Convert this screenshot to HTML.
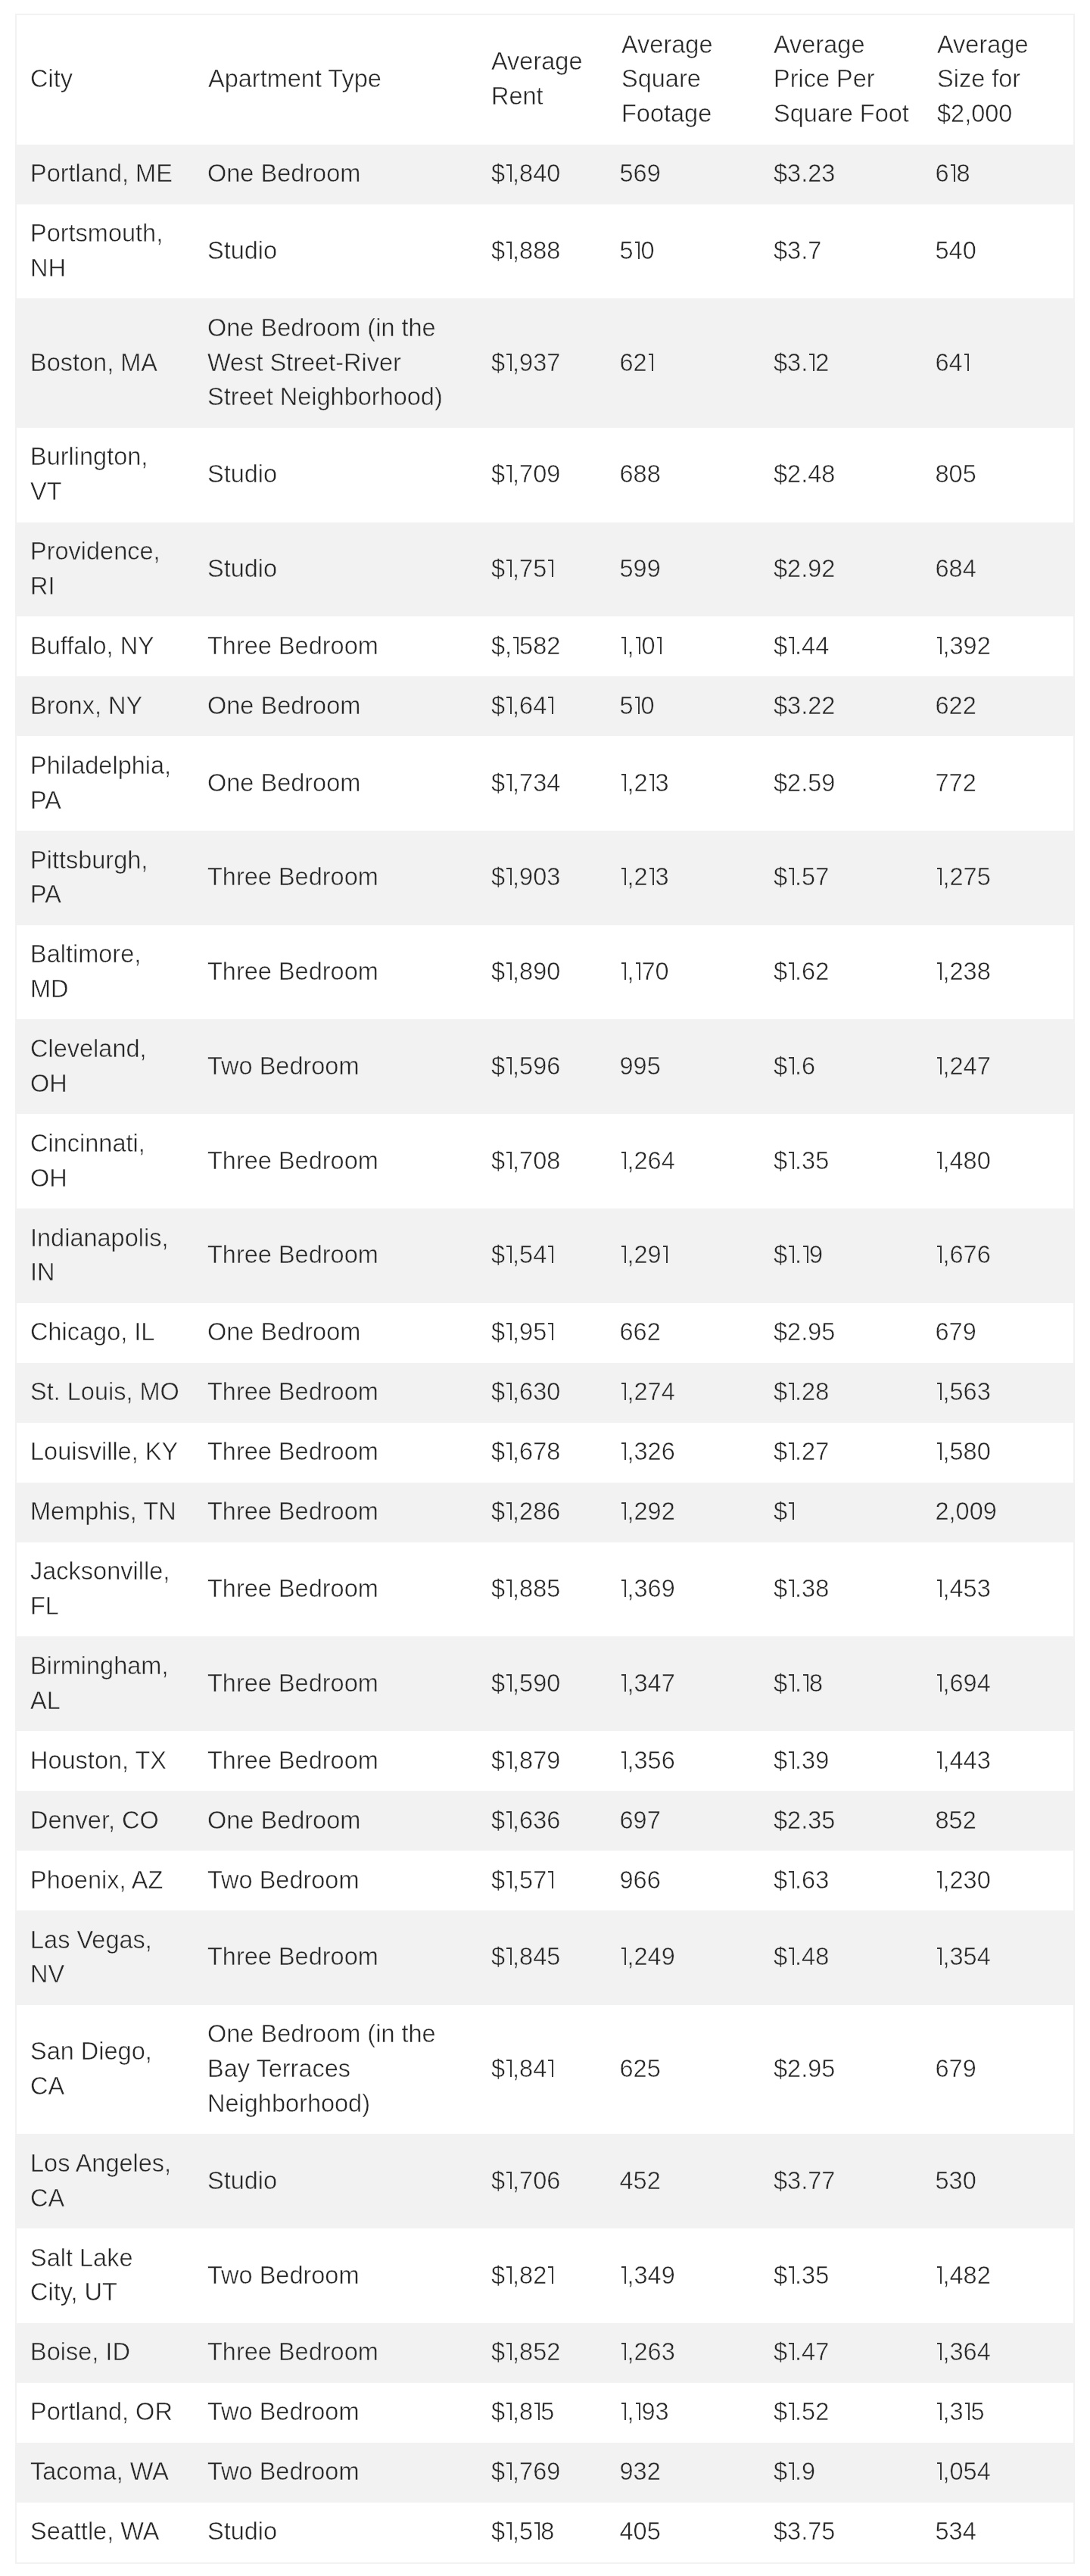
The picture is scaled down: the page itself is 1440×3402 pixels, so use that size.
<!DOCTYPE html>
<html><head><meta charset="utf-8"><style>
html,body{margin:0;padding:0;background:#fff;}
body{-webkit-font-smoothing:antialiased;width:1440px;height:3402px;overflow:hidden;position:relative;}
table{will-change:transform;position:absolute;left:20px;top:18px;width:1400px;border:2px solid #f2f2f2;border-collapse:separate;border-spacing:0;table-layout:fixed;
 font-family:"Liberation Sans",sans-serif;font-size:32.5px;line-height:45.78px;color:#262626;}
col.c1{width:233px}col.c2{width:374px}col.c3{width:172px}col.c4{width:201px}col.c5{width:216px}col.c6{width:200px}
td{padding:16.6px 20px;vertical-align:middle;white-space:nowrap;}
tr.g td{background:#f2f2f2;}
td{-webkit-text-stroke:0.5px #fff;}
tr.g td{-webkit-text-stroke:0.5px #f2f2f2;}
td:nth-child(1){padding-left:18px}
tr.g td:nth-child(2),tr.w td:nth-child(2){padding-left:19px}
tr.g td:nth-child(4),tr.w td:nth-child(4){padding-left:17.5px}
tr.g td:nth-child(6),tr.w td:nth-child(6){padding-left:17.5px}
b.o{display:inline-block;width:10px;height:23px;position:relative;vertical-align:baseline;}
b.o::before{content:"";position:absolute;left:2px;top:0;width:6.6px;height:2px;background:#383838;}
b.o::after{content:"";position:absolute;left:6.5px;top:0;width:2.1px;height:23px;background:#383838;}
b.o i{position:absolute;left:0;top:0;line-height:23px;font-style:normal;color:transparent;-webkit-text-stroke:0;}

</style></head><body>
<table>
<colgroup><col class="c1"><col class="c2"><col class="c3"><col class="c4"><col class="c5"><col class="c6"></colgroup>
<tr class="h"><td>City</td><td>Apartment Type</td><td>Average<br>Rent</td><td>Average<br>Square<br>Footage</td><td>Average<br>Price Per<br>Square Foot</td><td>Average<br>Size for<br>$2,000</td></tr>
<tr class="g"><td>Portland, ME</td><td>One Bedroom</td><td>$<b class="o"><i>1</i></b>,840</td><td>569</td><td>$3.23</td><td>6<b class="o"><i>1</i></b>8</td></tr>
<tr class="w"><td>Portsmouth,<br>NH</td><td>Studio</td><td>$<b class="o"><i>1</i></b>,888</td><td>5<b class="o"><i>1</i></b>0</td><td>$3.7</td><td>540</td></tr>
<tr class="g"><td>Boston, MA</td><td>One Bedroom (in the<br>West Street-River<br>Street Neighborhood)</td><td>$<b class="o"><i>1</i></b>,937</td><td>62<b class="o"><i>1</i></b></td><td>$3.<b class="o"><i>1</i></b>2</td><td>64<b class="o"><i>1</i></b></td></tr>
<tr class="w"><td>Burlington,<br>VT</td><td>Studio</td><td>$<b class="o"><i>1</i></b>,709</td><td>688</td><td>$2.48</td><td>805</td></tr>
<tr class="g"><td>Providence,<br>RI</td><td>Studio</td><td>$<b class="o"><i>1</i></b>,75<b class="o"><i>1</i></b></td><td>599</td><td>$2.92</td><td>684</td></tr>
<tr class="w"><td>Buffalo, NY</td><td>Three Bedroom</td><td>$,<b class="o"><i>1</i></b>582</td><td><b class="o"><i>1</i></b>,<b class="o"><i>1</i></b>0<b class="o"><i>1</i></b></td><td>$<b class="o"><i>1</i></b>.44</td><td><b class="o"><i>1</i></b>,392</td></tr>
<tr class="g"><td>Bronx, NY</td><td>One Bedroom</td><td>$<b class="o"><i>1</i></b>,64<b class="o"><i>1</i></b></td><td>5<b class="o"><i>1</i></b>0</td><td>$3.22</td><td>622</td></tr>
<tr class="w"><td>Philadelphia,<br>PA</td><td>One Bedroom</td><td>$<b class="o"><i>1</i></b>,734</td><td><b class="o"><i>1</i></b>,2<b class="o"><i>1</i></b>3</td><td>$2.59</td><td>772</td></tr>
<tr class="g"><td>Pittsburgh,<br>PA</td><td>Three Bedroom</td><td>$<b class="o"><i>1</i></b>,903</td><td><b class="o"><i>1</i></b>,2<b class="o"><i>1</i></b>3</td><td>$<b class="o"><i>1</i></b>.57</td><td><b class="o"><i>1</i></b>,275</td></tr>
<tr class="w"><td>Baltimore,<br>MD</td><td>Three Bedroom</td><td>$<b class="o"><i>1</i></b>,890</td><td><b class="o"><i>1</i></b>,<b class="o"><i>1</i></b>70</td><td>$<b class="o"><i>1</i></b>.62</td><td><b class="o"><i>1</i></b>,238</td></tr>
<tr class="g"><td>Cleveland,<br>OH</td><td>Two Bedroom</td><td>$<b class="o"><i>1</i></b>,596</td><td>995</td><td>$<b class="o"><i>1</i></b>.6</td><td><b class="o"><i>1</i></b>,247</td></tr>
<tr class="w"><td>Cincinnati,<br>OH</td><td>Three Bedroom</td><td>$<b class="o"><i>1</i></b>,708</td><td><b class="o"><i>1</i></b>,264</td><td>$<b class="o"><i>1</i></b>.35</td><td><b class="o"><i>1</i></b>,480</td></tr>
<tr class="g"><td>Indianapolis,<br>IN</td><td>Three Bedroom</td><td>$<b class="o"><i>1</i></b>,54<b class="o"><i>1</i></b></td><td><b class="o"><i>1</i></b>,29<b class="o"><i>1</i></b></td><td>$<b class="o"><i>1</i></b>.<b class="o"><i>1</i></b>9</td><td><b class="o"><i>1</i></b>,676</td></tr>
<tr class="w"><td>Chicago, IL</td><td>One Bedroom</td><td>$<b class="o"><i>1</i></b>,95<b class="o"><i>1</i></b></td><td>662</td><td>$2.95</td><td>679</td></tr>
<tr class="g"><td>St. Louis, MO</td><td>Three Bedroom</td><td>$<b class="o"><i>1</i></b>,630</td><td><b class="o"><i>1</i></b>,274</td><td>$<b class="o"><i>1</i></b>.28</td><td><b class="o"><i>1</i></b>,563</td></tr>
<tr class="w"><td>Louisville, KY</td><td>Three Bedroom</td><td>$<b class="o"><i>1</i></b>,678</td><td><b class="o"><i>1</i></b>,326</td><td>$<b class="o"><i>1</i></b>.27</td><td><b class="o"><i>1</i></b>,580</td></tr>
<tr class="g"><td>Memphis, TN</td><td>Three Bedroom</td><td>$<b class="o"><i>1</i></b>,286</td><td><b class="o"><i>1</i></b>,292</td><td>$<b class="o"><i>1</i></b></td><td>2,009</td></tr>
<tr class="w"><td>Jacksonville,<br>FL</td><td>Three Bedroom</td><td>$<b class="o"><i>1</i></b>,885</td><td><b class="o"><i>1</i></b>,369</td><td>$<b class="o"><i>1</i></b>.38</td><td><b class="o"><i>1</i></b>,453</td></tr>
<tr class="g"><td>Birmingham,<br>AL</td><td>Three Bedroom</td><td>$<b class="o"><i>1</i></b>,590</td><td><b class="o"><i>1</i></b>,347</td><td>$<b class="o"><i>1</i></b>.<b class="o"><i>1</i></b>8</td><td><b class="o"><i>1</i></b>,694</td></tr>
<tr class="w"><td>Houston, TX</td><td>Three Bedroom</td><td>$<b class="o"><i>1</i></b>,879</td><td><b class="o"><i>1</i></b>,356</td><td>$<b class="o"><i>1</i></b>.39</td><td><b class="o"><i>1</i></b>,443</td></tr>
<tr class="g"><td>Denver, CO</td><td>One Bedroom</td><td>$<b class="o"><i>1</i></b>,636</td><td>697</td><td>$2.35</td><td>852</td></tr>
<tr class="w"><td>Phoenix, AZ</td><td>Two Bedroom</td><td>$<b class="o"><i>1</i></b>,57<b class="o"><i>1</i></b></td><td>966</td><td>$<b class="o"><i>1</i></b>.63</td><td><b class="o"><i>1</i></b>,230</td></tr>
<tr class="g"><td>Las Vegas,<br>NV</td><td>Three Bedroom</td><td>$<b class="o"><i>1</i></b>,845</td><td><b class="o"><i>1</i></b>,249</td><td>$<b class="o"><i>1</i></b>.48</td><td><b class="o"><i>1</i></b>,354</td></tr>
<tr class="w"><td>San Diego,<br>CA</td><td>One Bedroom (in the<br>Bay Terraces<br>Neighborhood)</td><td>$<b class="o"><i>1</i></b>,84<b class="o"><i>1</i></b></td><td>625</td><td>$2.95</td><td>679</td></tr>
<tr class="g"><td>Los Angeles,<br>CA</td><td>Studio</td><td>$<b class="o"><i>1</i></b>,706</td><td>452</td><td>$3.77</td><td>530</td></tr>
<tr class="w"><td>Salt Lake<br>City, UT</td><td>Two Bedroom</td><td>$<b class="o"><i>1</i></b>,82<b class="o"><i>1</i></b></td><td><b class="o"><i>1</i></b>,349</td><td>$<b class="o"><i>1</i></b>.35</td><td><b class="o"><i>1</i></b>,482</td></tr>
<tr class="g"><td>Boise, ID</td><td>Three Bedroom</td><td>$<b class="o"><i>1</i></b>,852</td><td><b class="o"><i>1</i></b>,263</td><td>$<b class="o"><i>1</i></b>.47</td><td><b class="o"><i>1</i></b>,364</td></tr>
<tr class="w"><td>Portland, OR</td><td>Two Bedroom</td><td>$<b class="o"><i>1</i></b>,8<b class="o"><i>1</i></b>5</td><td><b class="o"><i>1</i></b>,<b class="o"><i>1</i></b>93</td><td>$<b class="o"><i>1</i></b>.52</td><td><b class="o"><i>1</i></b>,3<b class="o"><i>1</i></b>5</td></tr>
<tr class="g"><td>Tacoma, WA</td><td>Two Bedroom</td><td>$<b class="o"><i>1</i></b>,769</td><td>932</td><td>$<b class="o"><i>1</i></b>.9</td><td><b class="o"><i>1</i></b>,054</td></tr>
<tr class="w"><td>Seattle, WA</td><td>Studio</td><td>$<b class="o"><i>1</i></b>,5<b class="o"><i>1</i></b>8</td><td>405</td><td>$3.75</td><td>534</td></tr>
</table>
</body></html>
